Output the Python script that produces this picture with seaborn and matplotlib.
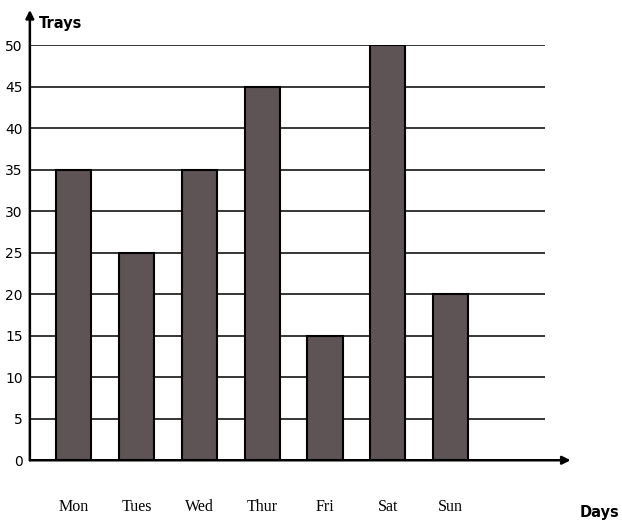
import matplotlib
matplotlib.use('Agg')
import matplotlib.pyplot as plt
import seaborn as sns
import pandas as pd

days = ['Mon', 'Tues', 'Wed', 'Thur', 'Fri', 'Sat', 'Sun']
trays = [35, 25, 35, 45, 15, 50, 20]
y_ticks = [0, 5, 10, 15, 20, 25, 30, 35, 40, 45, 50]

df = pd.DataFrame({'day': days, 'trays': trays})

sns.set_style('white')
plt.rcParams['font.family'] = ['DejaVu Sans']
plt.rcParams['text.color'] = 'black'

fig = plt.figure(figsize=(6.22, 5.26), dpi=100)
ax = fig.add_axes([0.048, 0.125, 0.828, 0.789])

sns.barplot(data=df, x='day', y='trays', color='#5e5355', edgecolor='black',
            linewidth=1.5, width=0.56, saturation=1, ax=ax, zorder=3)

ax.set_xlim(-0.7, 7.5)
ax.set_ylim(0, 50)
ax.set_yticks(y_ticks)
ax.set_yticklabels([str(t) for t in y_ticks], fontsize=10)
ax.set_axisbelow(True)
for t in y_ticks[1:]:
    ax.axhline(t, color='black', linewidth=1.1, zorder=1)

ax.tick_params(axis='y', length=3, pad=2, colors='black')
ax.tick_params(axis='x', length=0, pad=28, colors='black')
for lbl in ax.get_xticklabels():
    lbl.set_family('Liberation Serif')
    lbl.set_fontsize(11.5)

ax.set_xlabel('')
ax.set_ylabel('')
for s in ['top', 'right', 'bottom', 'left']:
    ax.spines[s].set_visible(False)

# axes drawn as arrows
ax.annotate('', xy=(0, 1.085), xytext=(0, 0), xycoords='axes fraction',
            arrowprops=dict(arrowstyle='-|>', color='black', lw=1.8,
                            mutation_scale=12, shrinkA=0, shrinkB=0))
ax.annotate('', xy=(1.05, 0), xytext=(0, 0), xycoords='axes fraction',
            arrowprops=dict(arrowstyle='-|>', color='black', lw=1.8,
                            mutation_scale=12, shrinkA=0, shrinkB=0))

fig.text(0.062, 0.955, 'Trays', fontsize=10.5, fontweight='bold', va='center')
fig.text(0.995, 0.025, 'Days', fontsize=10.5, fontweight='bold', va='center', ha='right')

fig.savefig('out.png', dpi=100, facecolor='white')
